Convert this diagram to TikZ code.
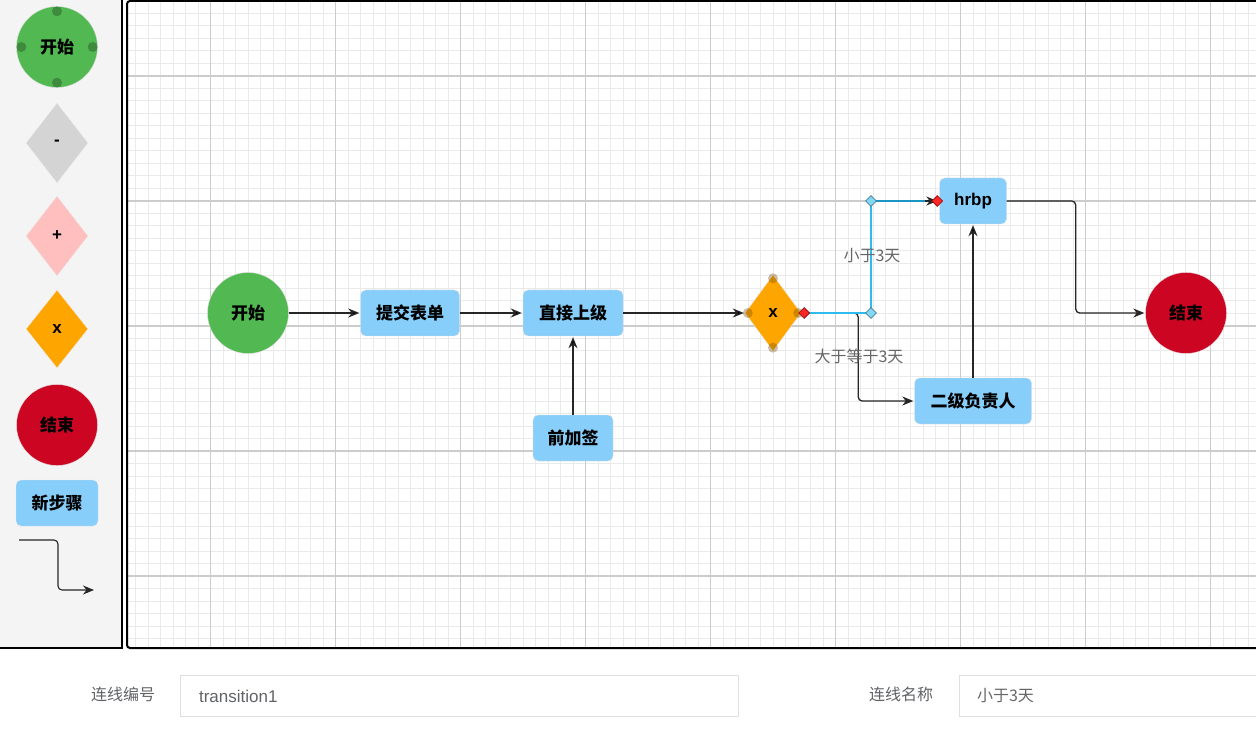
\documentclass[tikz,border=0pt]{standalone}
\usepackage{fontspec}
\setmainfont{Noto Sans CJK SC}
\newfontfamily\latinfont{Liberation Sans}
\usetikzlibrary{arrows.meta,shapes.geometric,positioning}

\definecolor{startgreen}{HTML}{52B952}
\definecolor{endred}{HTML}{CC0522}
\definecolor{stepblue}{HTML}{87CEFA}
\definecolor{gatewayorange}{HTML}{FFA500}
\definecolor{panelgray}{HTML}{F4F4F4}
\definecolor{gridminor}{HTML}{EAEAEA}
\definecolor{gridmajor}{HTML}{CCCCCC}
\definecolor{selblue}{HTML}{2EBCEE}
\definecolor{seldark}{HTML}{1A96C4}
\definecolor{labelgray}{HTML}{666666}
\definecolor{formgray}{HTML}{606266}

\begin{document}
\begin{tikzpicture}[x=1pt,y=-1pt,>={Stealth[length=11pt,width=9pt,inset=3.5pt]},shorten >=1pt,
    bold text/.style={font=\bfseries\fontsize{17}{20}\selectfont},
    start node/.style={circle,fill=startgreen,draw=black!12,minimum size=81pt,inner sep=0pt,bold text},
    end node/.style={circle,fill=endred,draw=black!12,minimum size=81pt,inner sep=0pt,bold text},
    step node/.style={rectangle,rounded corners=5pt,fill=stepblue,draw=black!10,minimum height=46pt,inner sep=0pt,bold text},
    gate node/.style={diamond,fill=#1,draw=black!8,minimum width=62pt,minimum height=80pt,inner sep=0pt,font=\latinfont\bfseries\fontsize{17}{18}\selectfont},
    anchor dot/.style={circle,fill=black,fill opacity=0.35,minimum size=10pt,inner sep=0pt},
    handle/.style={diamond,fill=#1,draw=#1!60!black,line width=0.8pt,minimum size=11pt,inner sep=0pt},
    flow/.style={->,draw=black!85,line width=1.3pt},
    edge label/.style={text=labelgray,font=\fontsize{16}{19}\selectfont},
    form label/.style={text=formgray,font=\fontsize{16}{19}\selectfont},
    input box/.style={rectangle,draw=black!12,line width=1pt,minimum height=41pt}]
  \useasboundingbox (0,0) rectangle (1256,735);

  % palette
  \draw[fill=panelgray,line width=1.2pt] (-2,-2) rectangle (122,648);
  \node[start node] (pstart) at (57,47) {开始};
  \foreach \a/\dx/\dy in {north/0/-5,south/0/5,east/-5/0,west/5/0}
    \node[anchor dot,fill=black!70!startgreen] at ([xshift=\dx pt,yshift=\dy pt]pstart.\a) {};
  \node[gate node=black!17] (pnone) at (57,143) {-};
  \node[gate node=pink] (pplus) at (57,236) {+};
  \node[gate node=gatewayorange,minimum height=78pt] (pex) at (57,329) {x};
  \node[end node] (pend) at (57,425) {结束};
  \node[step node,minimum width=82pt] (pstep) at (57,503) {新步骤};
  \coordinate (iconfrom) at (19,540);
  \coordinate (iconto) at (95,590);
  \draw[flow,rounded corners=4pt,line width=1.1pt] (iconfrom) -- ++(39,0) |- (iconto);

  % canvas and grid
  \begin{scope}
    \clip (127,1) rectangle (1258,648);
    \fill[white] (127,1) rectangle (1258,648);
    \foreach \gx in {135.5,148,...,1256}
      \draw[gridminor,line width=1pt] (\gx,1) -- (\gx,648);
    \foreach \gy in {13.5,26,...,648}
      \draw[gridminor,line width=1pt] (127,\gy) -- (1258,\gy);
    \foreach \gx in {210.5,335.5,...,1256}
      \draw[gridmajor,line width=1.4pt] (\gx,1) -- (\gx,648);
    \foreach \gy in {76,201,...,648}
      \draw[gridmajor,line width=1.4pt] (127,\gy) -- (1258,\gy);
  \end{scope}
  \draw[line width=2pt,rounded corners=3pt] (127,1) rectangle (1262,648);

  % process
  \node[start node] (start) at (248,313) {开始};
  \node[step node,minimum width=99pt] (submit) at (410,313) {提交表单};
  \node[step node,minimum width=100pt] (lead1) at (573,313) {直接上级};
  \node[step node,minimum width=80pt] (presign) at (573,438) {前加签};
  \node[gate node=gatewayorange,minimum width=56pt,minimum height=76pt] (gw) at (773,313) {x};
  \foreach \a/\dx/\dy in {north/0/-3.5,south/0/3.5,east/-3/0,west/3/0}
    \node[anchor dot,fill=black!55!gatewayorange] at ([xshift=\dx pt,yshift=\dy pt]gw.\a) {};
  \node[step node,minimum width=67pt,font=\latinfont\bfseries\fontsize{17}{20}\selectfont] (hrbp) at (973,201) {hrbp};
  \node[step node,minimum width=117pt] (lead2) at (973,401) {二级负责人};
  \node[end node] (end) at (1186,313) {结束};

  \path[flow]
    (start) edge (submit)
    (submit) edge (lead1)
    (lead1) edge (gw)
    (presign) edge (lead1)
    (lead2) edge (hrbp);
  \draw[flow,rounded corners=4pt] (gw.east) -- ++(57,0) |- (lead2.west);
  \draw[flow,rounded corners=4pt] (hrbp.east) -- ++(69,0) |- (end.west);

  % selected transition
  \coordinate (bendlow) at (871,313);
  \coordinate (bendhigh) at (871,201);
  \draw[selblue,line width=2pt] (gw.east) -- (bendlow);
  \draw[selblue,line width=1.6pt] (bendlow) -- (bendhigh);
  \draw[seldark,line width=2pt] (bendhigh) -- ([xshift=-10pt]hrbp.west);
  \draw[flow,shorten >=2pt] ([xshift=-14pt]hrbp.west) -- (hrbp.west);
  \node[handle=red!85!white] (h1) at ([xshift=3pt]gw.east) {};
  \node[handle=selblue!60!white] (h2) at (bendlow) {};
  \node[handle=selblue!60!white] (h3) at (bendhigh) {};
  \node[handle=red!85!white] (h4) at ([xshift=-2pt]hrbp.west) {};
  \node[edge label] (lessthan) at (872,256) {小于3天};
  \node[edge label] (atleast) at (859,356) {大于等于3天};

  % form
  \node[form label] (idlabel) at (123,694) {连线编号};
  \node[input box,minimum width=558pt] (idbox) at (459,696) {};
  \node[anchor=west,text=formgray,font=\latinfont\fontsize{17}{20}\selectfont] (idtext) at ([xshift=16pt]idbox.west) {transition1};
  \node[form label] (namelabel) at (901,694) {连线名称};
  \node[input box,minimum width=340pt] (namebox) at (1129,696) {};
  \node[anchor=west,form label,text=labelgray] (nametext) at ([xshift=15pt]namebox.west) {小于3天};
\end{tikzpicture}
\end{document}
